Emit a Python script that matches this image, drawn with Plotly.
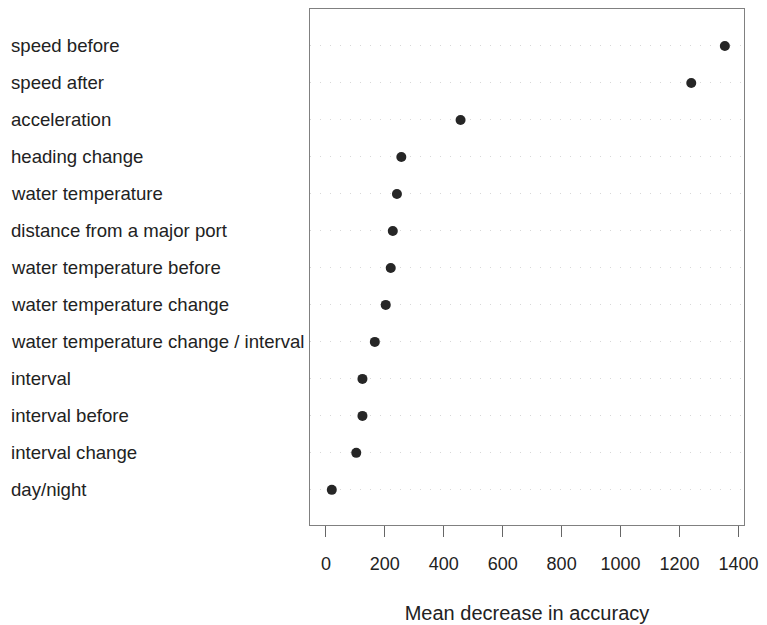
import plotly.graph_objects as go

variables = [
    "speed before",
    "speed after",
    "acceleration",
    "heading change",
    "water temperature",
    "distance from a major port",
    "water temperature before",
    "water temperature change",
    "water temperature change / interval",
    "interval",
    "interval before",
    "interval change",
    "day/night",
]
mean_decrease = [1354, 1240, 457, 256, 241, 227, 220, 203, 166, 124, 124, 103, 20]
x_ticks = [0, 200, 400, 600, 800, 1000, 1200, 1400]

FONT = "Liberation Sans, Arial, sans-serif"
TXT = "#222222"

fig = go.Figure()
fig.add_trace(go.Scatter(
    x=mean_decrease, y=variables, mode="markers",
    marker=dict(size=10, color="#262626"),
    showlegend=False, hoverinfo="x+y",
))

for v in variables:
    fig.add_annotation(
        x=-0.6935, xref="paper", y=v, yref="y", text=v,
        xanchor="left", yanchor="middle", showarrow=False,
        font=dict(family=FONT, size=18.6, color=TXT),
    )

# page body keeps its default 8px margin; figure offset compensated
fig.update_layout(
    width=759, height=617,
    margin=dict(l=302, r=23, t=1, b=100),
    paper_bgcolor="white", plot_bgcolor="white",
    font=dict(family=FONT, color=TXT),
)
fig.update_xaxes(
    range=[-54, 1419], tickvals=x_ticks, ticktext=[str(t) for t in x_ticks],
    ticks="outside", ticklen=11, tickcolor="#666666", tickwidth=1,
    ticklabelstandoff=11,
    showline=True, linecolor="#808080", linewidth=1, mirror=True,
    showgrid=False, zeroline=False,
    tickfont=dict(family=FONT, size=18, color=TXT),
    title=dict(text="Mean decrease in accuracy", standoff=33,
               font=dict(family=FONT, size=20, color=TXT)),
)
fig.update_yaxes(
    type="category", categoryorder="array", categoryarray=variables,
    range=[12.95, -1.0], showticklabels=False, ticks="",
    showline=True, linecolor="#808080", linewidth=1, mirror=True,
    showgrid=True, gridcolor="#d8d8d8", griddash="1px,9px", gridwidth=1,
    zeroline=False,
)

fig.write_html("out.html", config={"displayModeBar": False})
